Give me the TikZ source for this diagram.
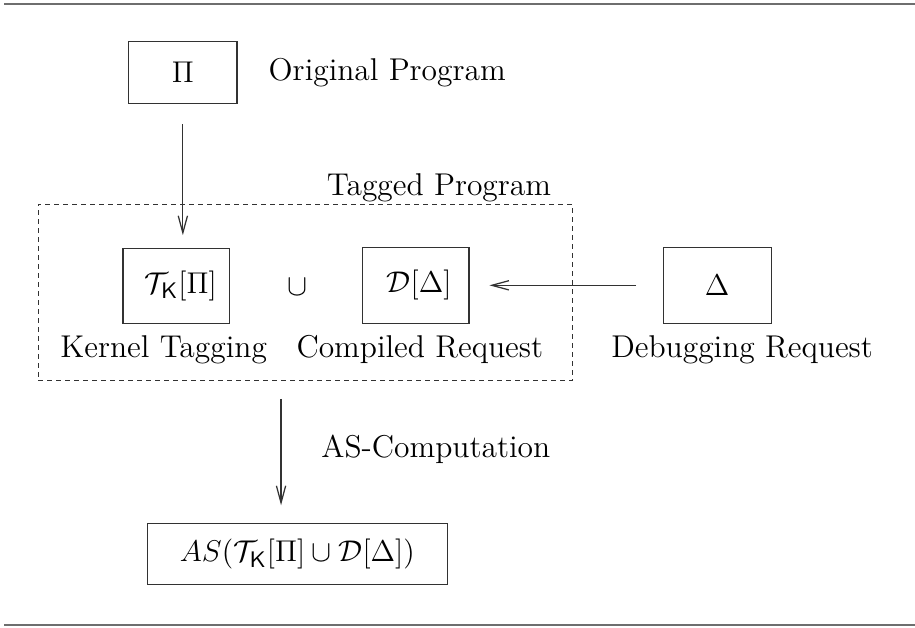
\documentclass[tikz,border=0pt]{standalone}
\usepackage{amsmath}
\usepackage{tikz}
\usetikzlibrary{arrows.meta, positioning, calc}
\definecolor{mydark}{RGB}{50,50,50}
\definecolor{mygray}{RGB}{110,110,110}
\newcommand{\figfont}{\fontsize{12.6}{15}\selectfont}
\tikzset{
  box/.style={rectangle, draw=mydark, line width=0.5pt,
    inner sep=0pt, font=\figfont},
  tagbox/.style={rectangle, draw=mydark, dash pattern=on 2pt off 1.6pt,
    line width=0.4pt, minimum width=7.51cm, minimum height=2.48cm},
  arrow/.style={-{Straight Barb[length=2.4mm,width=1.3mm]},
    line width=0.5pt, color=mydark},
  rule/.style={line width=0.8pt, color=mygray},
  lbl/.style={font=\figfont, inner sep=0pt, anchor=base}
}

\begin{document}
\begin{tikzpicture}
  \useasboundingbox (0,0) rectangle (12.86,8.82);

  % Rules above and below
  \draw[rule] (0.06,8.77) -- (12.86,8.77);
  \draw[rule] (0.06,0.04) -- (12.86,0.04);

  % Original program
  \node[box, minimum width=1.52cm, minimum height=0.87cm] (pi) at (2.57,7.80) {$\Pi$};
  \node[lbl, anchor=base west] (orig) at (3.77,7.69) {Original Program};

  % Tagged program
  \node[tagbox] (tagged) at (4.29,4.71) {};
  \node[lbl] (tagl) at (6.17,6.07) {Tagged Program};
  \node[box, minimum width=1.50cm, minimum height=1.05cm] (tk) at (2.48,4.80) {\hspace{0.12cm}$\mathcal{T}_{\mathsf{K}}[\Pi]$};
  \node[font=\figfont] (cup) at (4.18,4.78) {$\cup$};
  \node[box, minimum width=1.50cm, minimum height=1.07cm] (dd) at (5.84,4.81) {\hspace{0.1cm}$\mathcal{D}[\Delta]$};
  \node[lbl] (kern) at (2.30,3.80) {Kernel Tagging};
  \node[lbl] (comp) at (5.90,3.80) {Compiled Request};

  % Debugging request
  \node[box, minimum width=1.52cm, minimum height=1.07cm] (delta) at (10.08,4.81) {$\Delta$};
  \node[lbl] (debug) at (10.43,3.80) {Debugging Request};

  % Answer sets
  \node[box, minimum width=4.22cm, minimum height=0.86cm] (as) at (4.18,1.03) {$AS(\mathcal{T}_{\mathsf{K}}[\Pi] \cup \mathcal{D}[\Delta])$};
  \node[lbl, anchor=base west] (asc) at (4.51,2.39) {AS-Computation};

  % Arrows
  \draw[arrow, shorten <=0.28cm, shorten >=0.18cm] (pi.south) -- (pi.south |- tk.north);
  \draw[arrow, shorten <=0.37cm, shorten >=0.28cm] (delta.west) -- (dd.east);
  \coordinate (asin) at ([xshift=-0.23cm]as.north);
  \draw[arrow, shorten <=0.25cm, shorten >=0.25cm] (tagged.south -| asin) -- (asin);
\end{tikzpicture}
\end{document}
